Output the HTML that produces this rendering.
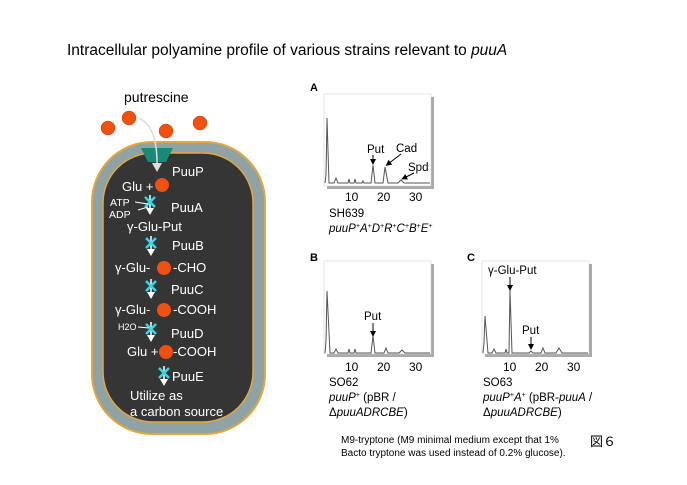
<!DOCTYPE html>
<html><head><meta charset="utf-8"><style>
html,body{margin:0;padding:0;background:#fff;}
svg{display:block;font-family:"Liberation Sans","Noto Sans CJK JP",sans-serif;}
</style></head><body>
<svg width="687" height="485" viewBox="0 0 687 485" xmlns="http://www.w3.org/2000/svg">
<defs>
<marker id="ah" markerWidth="6" markerHeight="6" refX="3" refY="3" orient="auto" markerUnits="userSpaceOnUse"><path d="M0,0 L6,3 L0,6 z" fill="#000"/></marker>
<g id="enz">
<line x1="0" y1="-9" x2="0" y2="5" stroke="#fff" stroke-width="1.5"/>
<path d="M-4,4 L4,4 L0,11 z" fill="#fff"/>
<path d="M-5,-7 L5,3 M5,-7 L-5,3" stroke="#35d6e6" stroke-width="2.5"/>
</g>
</defs>
<rect width="687" height="485" fill="#fff"/>
<text x="67" y="55" font-size="15.5" fill="#000">Intracellular polyamine profile of various strains relevant to <tspan font-style="italic">puuA</tspan></text>

<text x="124" y="102" font-size="14" fill="#000">putrescine</text>
<g fill="#f05010" stroke="#c84008" stroke-width="0.5">
<circle cx="108" cy="128" r="7"/><circle cx="129" cy="118" r="7"/><circle cx="166" cy="131" r="7"/><circle cx="200" cy="123" r="7"/>
</g>
<!-- cell -->
<rect x="92" y="142" width="173" height="292" rx="60" fill="#8fa3a6" stroke="#e2a83a" stroke-width="2"/>
<rect x="103" y="153" width="150" height="269" rx="50" fill="#353535" stroke="#e2a83a" stroke-width="1.5"/>
<path d="M141,148 L173,148 L166,162 L148,162 z" fill="#1a8a78"/>
<path d="M138,118 Q158,125 157,168" fill="none" stroke="#ddd" stroke-width="1.5"/>
<path d="M152,163 L162,163 L157,172 z" fill="#ddd"/>

<g fill="#fff" font-size="13">
<text x="172" y="176">PuuP</text>
<text x="122" y="191">Glu +</text>
<text x="110" y="206" font-size="10.5">ATP</text>
<text x="109" y="218" font-size="10.5">ADP</text>
<text x="171" y="212">PuuA</text>
<text x="127" y="231">γ-Glu-Put</text>
<text x="172" y="250">PuuB</text>
<text x="115" y="272">γ-Glu-</text><text x="173" y="272">-CHO</text>
<text x="171" y="294">PuuC</text>
<text x="115" y="314">γ-Glu-</text><text x="173" y="314">-COOH</text>
<text x="118" y="330" font-size="9">H2O</text>
<text x="171" y="338">PuuD</text>
<text x="127" y="356">Glu +</text><text x="173" y="356">-COOH</text>
<text x="172" y="381">PuuE</text>
<text x="130" y="400">Utilize as</text>
<text x="130" y="416">a carbon source</text>
</g>
<g fill="#f05010"><circle cx="162" cy="185" r="7"/><circle cx="164" cy="268" r="7"/><circle cx="164" cy="310" r="7"/><circle cx="166" cy="352" r="7"/></g>
<use href="#enz" x="150" y="204"/>
<path d="M135,202 L148,204 M148,207 L138,210" stroke="#fff" stroke-width="1"/>
<use href="#enz" x="151" y="245"/>
<use href="#enz" x="151" y="288"/>
<use href="#enz" x="151" y="331"/>
<path d="M138,327 L149,328" stroke="#fff" stroke-width="1"/>
<use href="#enz" x="164" y="375"/>

<!-- chart A -->
<text x="310" y="91" font-size="11" font-weight="bold">A</text>
<rect x="327" y="97" width="107" height="92" fill="#aaa"/>
<rect x="324" y="94" width="107" height="92" fill="#fff" stroke="#ccc" stroke-width="0.5"/>
<path d="M325,183 L326,175 L327,118 L329,183 L334,183 L336,178 L338,183 L348,183 L349,179 L350,183 L354,183 L355,179 L356,183 L362,183 L363,181 L364,183 L371,183 L373,165 L375,183 L383,183 L385,167 L388,183 L398,183 L401,180 L404,183 L430,183" fill="none" stroke="#555" stroke-width="1"/>
<g font-size="12"><text x="345" y="201">10</text><text x="377" y="201">20</text><text x="409" y="201">30</text></g>
<text x="367" y="153" font-size="11.5">Put</text>
<line x1="373" y1="155" x2="373" y2="162" stroke="#000" marker-end="url(#ah)"/>
<text x="396" y="152" font-size="11.5">Cad</text>
<line x1="401" y1="154" x2="388" y2="164" stroke="#000" marker-end="url(#ah)"/>
<text x="408" y="171" font-size="11.5">Spd</text>
<line x1="414" y1="173" x2="404" y2="178" stroke="#000" marker-end="url(#ah)"/>
<text x="329" y="217" font-size="11.5">SH639</text>
<text x="329" y="232" font-size="11.5" font-style="italic">puuP<tspan font-size="7" dy="-4">+</tspan><tspan dy="4">A</tspan><tspan font-size="7" dy="-4">+</tspan><tspan dy="4">D</tspan><tspan font-size="7" dy="-4">+</tspan><tspan dy="4">R</tspan><tspan font-size="7" dy="-4">+</tspan><tspan dy="4">C</tspan><tspan font-size="7" dy="-4">+</tspan><tspan dy="4">B</tspan><tspan font-size="7" dy="-4">+</tspan><tspan dy="4">E</tspan><tspan font-size="7" dy="-4">+</tspan></text>

<!-- chart B -->
<text x="310" y="261" font-size="11" font-weight="bold">B</text>
<rect x="327" y="264" width="107" height="93" fill="#aaa"/>
<rect x="324" y="261" width="107" height="93" fill="#fff" stroke="#ccc" stroke-width="0.5"/>
<path d="M325,353 L326,341 L327,291 L330,353 L334,353 L336,349 L338,353 L348,353 L349,349 L350,353 L354,353 L355,349 L356,353 L371,353 L373,336 L375,353 L384,353 L386,348 L388,353 L399,353 L402,350 L405,353 L430,353" fill="none" stroke="#555" stroke-width="1"/>
<g font-size="12"><text x="345" y="371">10</text><text x="377" y="371">20</text><text x="409" y="371">30</text></g>
<text x="364" y="320" font-size="11.5">Put</text>
<line x1="373" y1="323" x2="373" y2="334" stroke="#000" marker-end="url(#ah)"/>
<text x="329" y="386" font-size="11.5">SO62</text>
<text x="329" y="401" font-size="11.5"><tspan font-style="italic">puuP</tspan><tspan font-size="7" dy="-4">+</tspan><tspan dy="4"> (pBR /</tspan></text>
<text x="329" y="416" font-size="11.5">Δ<tspan font-style="italic">puuADRCBE</tspan>)</text>

<!-- chart C -->
<text x="467" y="261" font-size="11" font-weight="bold">C</text>
<rect x="485" y="264" width="107" height="93" fill="#aaa"/>
<rect x="482" y="261" width="107" height="93" fill="#fff" stroke="#ccc" stroke-width="0.5"/>
<path d="M483,353 L484,343 L485,316 L488,353 L492,353 L494,349 L496,353 L505,353 L506,349 L507,353 L509,353 L510,290 L512,353 L529,353 L531,351 L533,353 L541,353 L543,348 L545,353 L556,353 L559,348 L562,353 L588,353" fill="none" stroke="#555" stroke-width="1"/>
<g font-size="12"><text x="503" y="371">10</text><text x="535" y="371">20</text><text x="567" y="371">30</text></g>
<text x="488" y="274" font-size="11.5">γ-Glu-Put</text>
<line x1="510" y1="277" x2="510" y2="288" stroke="#000" marker-end="url(#ah)"/>
<text x="522" y="334" font-size="11.5">Put</text>
<line x1="531" y1="337" x2="531" y2="347" stroke="#000" marker-end="url(#ah)"/>
<text x="483" y="386" font-size="11.5">SO63</text>
<text x="483" y="401" font-size="11.5"><tspan font-style="italic">puuP</tspan><tspan font-size="7" dy="-4">+</tspan><tspan dy="4" font-style="italic">A</tspan><tspan font-size="7" dy="-4">+</tspan><tspan dy="4"> (pBR-</tspan><tspan font-style="italic">puuA</tspan> /</text>
<text x="483" y="416" font-size="11.5">Δ<tspan font-style="italic">puuADRCBE</tspan>)</text>

<text x="341" y="443" font-size="10">M9-tryptone (M9 minimal medium except that 1%</text>
<text x="341" y="456" font-size="10">Bacto tryptone was used instead of 0.2% glucose).</text>
<text x="590" y="446" font-size="13">図６</text>
</svg>
</body></html>
